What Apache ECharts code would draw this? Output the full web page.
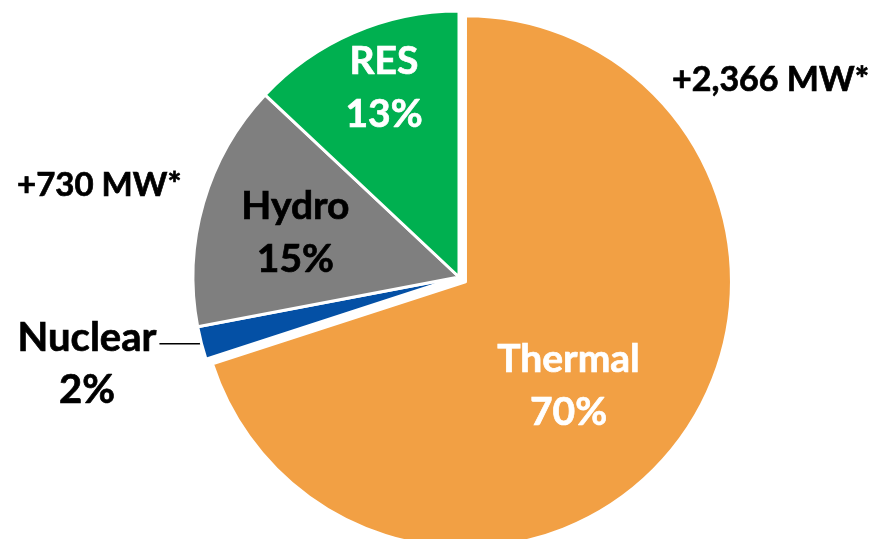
<!doctype html>
<html>
<head>
<meta charset="utf-8">
<title>Installed capacity mix</title>
<script src="https://cdn.jsdelivr.net/npm/echarts@6/dist/echarts.min.js"></script>
<style>
    html, body { margin: 0; padding: 0; background: #fff; }
    #chart { width: 870px; height: 539px; }
</style>
</head>
<body>
<div id="chart"></div>
<script>
var categories = ['Thermal', 'Nuclear', 'Hydro', 'RES'];
var shares = [70, 2, 15, 13];
var sliceColors = ['#F2A044', '#0450A5', '#7F7F7F', '#00B050'];
var labelColors = ['#fff', '#000', '#000', '#fff'];
var addedCapacity = ['+2,366 MW*', '+730 MW*'];

var FONT = 'Lato';

// inside labels sit a bit off the default spot, like the original
var labelShift = {
    Thermal: [-7, 24],
    Hydro: [-33, -6],
    RES: [-21, -64],
    Nuclear: [2, 20]
};

var data = categories.map(function (name, i) {
    var item = {
        name: name,
        value: shares[i],
        itemStyle: { color: sliceColors[i] },
        label: { color: labelColors[i], textBorderColor: labelColors[i], textBorderWidth: 0.7 }
    };
    if (name === 'Thermal') {
        item.selected = true;
        // selected state has its own label, so shift it there too
        item.select = { label: { offset: labelShift[name] } };
    }
    if (name === 'Nuclear') {
        item.label = {
            position: 'outside',
            offset: labelShift[name],
            formatter: '{n|{b}}\n{n|{d}%}',
            rich: {
                n: {
                    fontFamily: FONT, fontWeight: 'bold', fontSize: 40, lineHeight: 52, align: 'center',
                    color: '#000', textBorderColor: '#000', textBorderWidth: 0.7
                }
            }
        };
        item.labelLine = {
            show: true,
            length: 2,
            length2: 40,
            smooth: false,
            lineStyle: { color: '#000', width: 1.5 }
        };
    } else {
        item.label.position = 'inside';
        item.label.offset = labelShift[name];
        item.labelLine = { show: false };
    }
    return item;
});

var myChart = echarts.init(document.getElementById('chart'));
var option = {
    animation: false,
    backgroundColor: '#fff',
    series: [{
        type: 'pie',
        center: [459, 277],
        radius: 266,
        startAngle: 90,
        clockwise: true,
        selectedMode: 'single',
        selectedOffset: 8,
        avoidLabelOverlap: false,
        itemStyle: { borderColor: '#fff', borderWidth: 3 },
        select: { itemStyle: { borderColor: '#fff', borderWidth: 3 } },
        emphasis: { disabled: true },
        label: {
            formatter: '{b}\n{d}%',
            fontFamily: FONT,
            fontWeight: 'bold',
            fontSize: 39,
            lineHeight: 53,
            align: 'center'
        },
        data: data
    }],
    graphic: [
        {
            type: 'text',
            x: 672, y: 80,
            style: {
                text: addedCapacity[0], font: 'bold 34px ' + FONT, fill: '#000',
                stroke: '#000', lineWidth: 0.7, textAlign: 'left', textVerticalAlign: 'middle'
            }
        },
        {
            type: 'text',
            x: 17, y: 185,
            style: {
                text: addedCapacity[1], font: 'bold 33px ' + FONT, fill: '#000',
                stroke: '#000', lineWidth: 0.7, textAlign: 'left', textVerticalAlign: 'middle'
            }
        }
    ]
};
myChart.setOption(option);
</script>
</body>
</html>
